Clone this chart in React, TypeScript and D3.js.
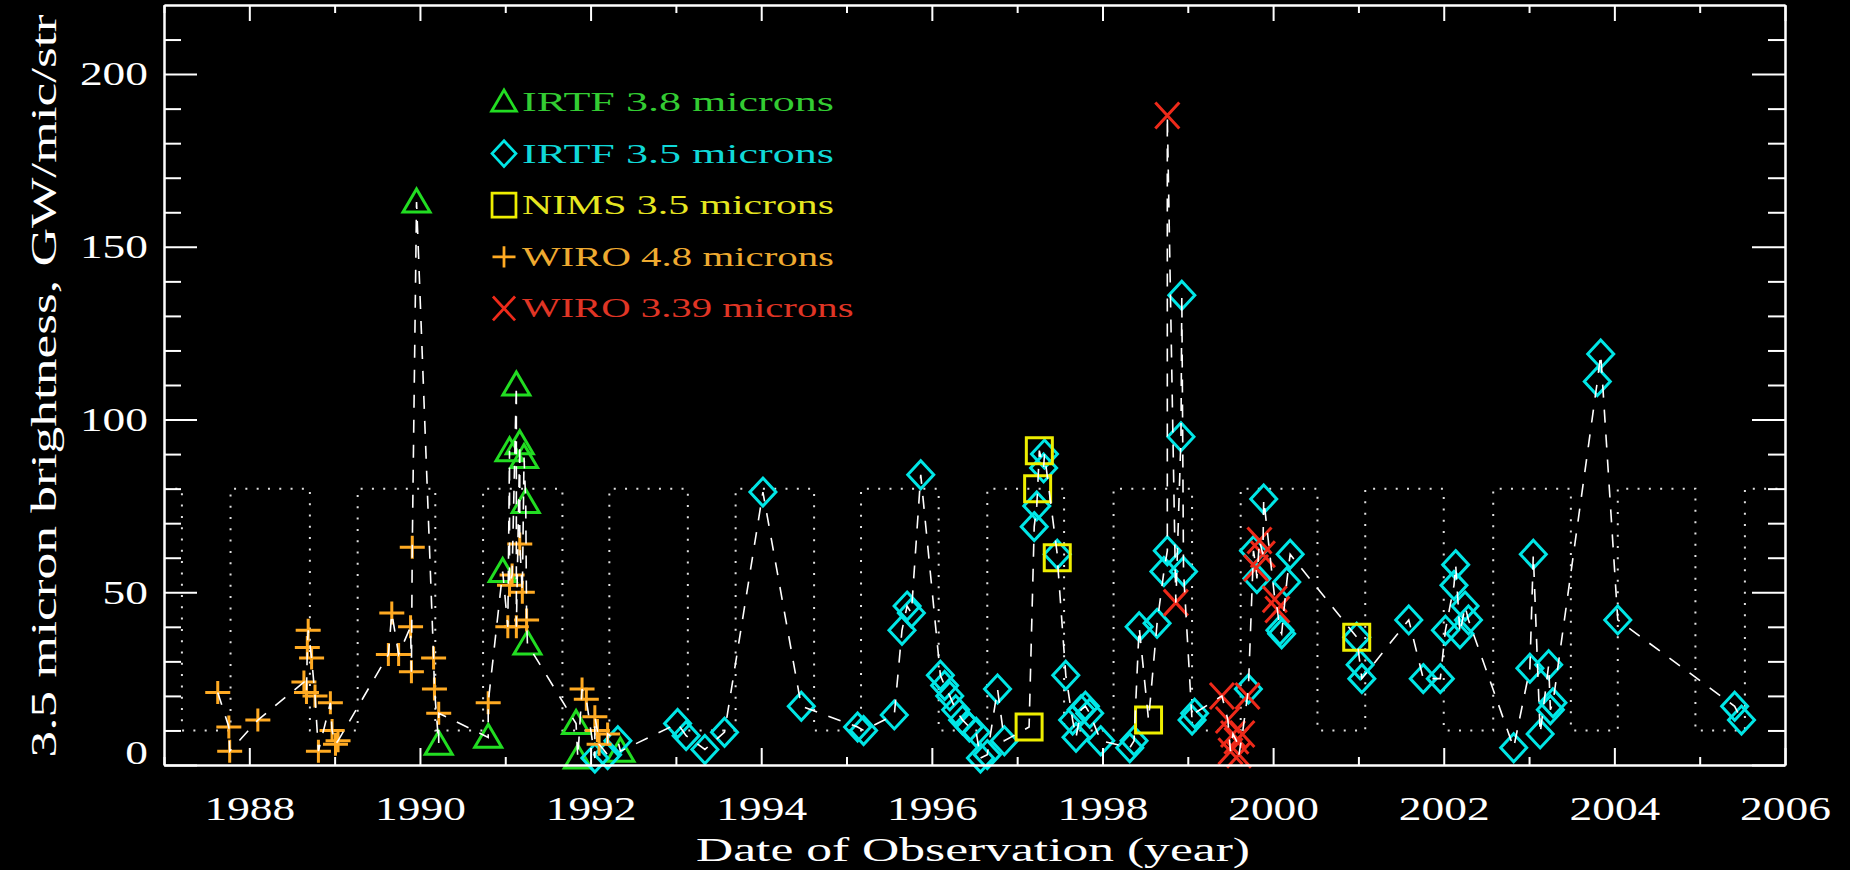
import React, { useRef, useEffect } from "react";
import * as d3 from "d3";

// [year, brightness GW/mic/str]
const irtf38 = [
  [1989.96, 163], [1990.22, 6], [1990.8, 8], [1990.97, 56], [1991.05, 91],
  [1991.13, 110], [1991.17, 93], [1991.22, 89], [1991.24, 76], [1991.26, 35],
  [1991.83, 12], [1991.85, 2], [1992.35, 4],
];

const irtf35 = [
  [1992.05, 2], [1992.2, 3], [1992.32, 7],
  [1993.02, 12], [1993.12, 8.5], [1993.34, 4.5], [1993.57, 9.5],
  [1994.02, 79], [1994.47, 17],
  [1995.13, 11], [1995.2, 10], [1995.56, 14.5], [1995.65, 39], [1995.71, 46], [1995.76, 44], [1995.87, 84],
  [1996.1, 26], [1996.15, 23], [1996.21, 20], [1996.28, 16], [1996.36, 13], [1996.44, 11], [1996.52, 9.5],
  [1996.57, 2], [1996.65, 3], [1996.77, 22], [1996.85, 7],
  [1997.2, 69], [1997.23, 75], [1997.31, 86], [1997.32, 90], [1997.47, 61], [1997.57, 26],
  [1997.65, 13], [1997.69, 8], [1997.75, 16], [1997.8, 17], [1997.85, 15], [1997.98, 7],
  [1998.32, 5], [1998.37, 7], [1998.43, 40], [1998.64, 41], [1998.72, 56], [1998.76, 62],
  [1998.92, 95], [1998.93, 136], [1998.95, 56],
  [1999.05, 13], [1999.08, 15],
  [1999.71, 22], [1999.77, 62], [1999.81, 54], [1999.89, 77], [2000.08, 39], [2000.1, 38], [2000.16, 53], [2000.2, 61],
  [2000.98, 37], [2001.02, 29], [2001.04, 25],
  [2001.59, 42], [2001.76, 25], [2001.96, 25],
  [2002.02, 39], [2002.12, 52], [2002.14, 58], [2002.19, 38], [2002.25, 46], [2002.29, 42],
  [2002.82, 5], [2003.01, 28], [2003.05, 61], [2003.13, 9], [2003.23, 29], [2003.25, 16], [2003.28, 18],
  [2003.8, 111], [2003.84, 119], [2004.04, 42],
  [2005.41, 17], [2005.49, 13],
];

const nims35 = [
  [1997.14, 11], [1997.24, 80], [1997.26, 91], [1997.47, 60], [1998.54, 13], [2000.98, 37],
];

const wiro48 = [
  [1987.63, 21], [1987.76, 11], [1987.77, 4], [1988.1, 13],
  [1988.64, 24], [1988.67, 21], [1988.68, 34], [1988.69, 39], [1988.73, 31], [1988.77, 20],
  [1988.81, 4], [1988.95, 18], [1988.97, 10], [1989.01, 6], [1989.04, 7],
  [1989.63, 32], [1989.67, 44], [1989.75, 32], [1989.89, 40], [1989.9, 27], [1989.91, 63],
  [1990.16, 31], [1990.17, 22], [1990.22, 15],
  [1990.8, 18], [1991.03, 40], [1991.05, 52], [1991.08, 55], [1991.13, 40], [1991.17, 64],
  [1991.2, 50], [1991.25, 42],
  [1991.9, 22], [1991.95, 19], [1992.05, 14], [1992.08, 10], [1992.1, 6], [1992.2, 9],
];

const wiro339 = [
  [1998.76, 188], [1998.86, 47], [1999.4, 20], [1999.47, 13], [1999.5, 4], [1999.53, 9],
  [1999.57, 7], [1999.6, 3], [1999.64, 9], [1999.7, 20], [1999.8, 57], [1999.84, 65],
  [1999.88, 61], [2000.02, 48], [2000.05, 45],
];

// dotted window curve: toggles between high and low at these dates
const waveEdges = [
  1987.21, 1987.78, 1988.71, 1989.27, 1990.18, 1990.74, 1991.67, 1992.22, 1993.14, 1993.7,
  1994.62, 1995.17, 1996.08, 1996.65, 1997.55, 1998.13, 1999.05, 1999.62, 2000.52, 2001.08,
  2002.0, 2002.58, 2003.49, 2004.04, 2004.95, 2005.53,
];
const waveHigh = 80;
const waveLow = 10;

const xMajor = [1988, 1990, 1992, 1994, 1996, 1998, 2000, 2002, 2004, 2006];
const xMinor = [1987, 1989, 1991, 1993, 1995, 1997, 1999, 2001, 2003, 2005];
const yMajor = [0, 50, 100, 150, 200];
const yMinor = [10, 20, 30, 40, 60, 70, 80, 90, 110, 120, 130, 140, 160, 170, 180, 190, 210];

const series = [
  { label: "IRTF 3.8 microns", color: "#22dd22", text: "#33cc33", sym: "triangle", data: irtf38 },
  { label: "IRTF 3.5 microns", color: "#00e6e6", text: "#10d8d8", sym: "diamond", data: irtf35 },
  { label: "NIMS 3.5 microns", color: "#eeee00", text: "#e6e620", sym: "square", data: nims35 },
  { label: "WIRO 4.8 microns", color: "#ffaa22", text: "#eeaa30", sym: "plus", data: wiro48 },
  { label: "WIRO 3.39 microns", color: "#ee2a1a", text: "#e03525", sym: "cross", data: wiro339 },
];

const symbolPath = {
  triangle: "M0,-13L13.5,10L-13.5,10Z",
  diamond: "M0,-14L13,0L0,14L-13,0Z",
  square: "M-13,-13H13V13H-13Z",
  plus: "M-12.5,0H12.5M0,-11.5V11.5",
  cross: "M-12,-13L12,13M-12,13L12,-13",
};

const FONT = "'Liberation Serif', 'DejaVu Serif', serif";

const App = () => {
  const svgRef = useRef(null);

  useEffect(() => {
    if (!svgRef.current) return;
    const svg = d3.select(svgRef.current);
    svg.selectAll("*").remove();

    const left = 164, right = 1785, top = 5, bottom = 765;
    const x = d3.scaleLinear().domain([1987, 2006]).range([left, right]);
    const y = d3.scaleLinear().domain([0, 220]).range([bottom, top]);

    svg.append("rect").attr("width", 1850).attr("height", 870).attr("fill", "#000");

    // dotted window curve
    const wave = [[1987, waveHigh]];
    let level = waveHigh;
    waveEdges.forEach((t) => {
      wave.push([t, level]);
      level = level === waveHigh ? waveLow : waveHigh;
      wave.push([t, level]);
    });
    wave.push([2006, level]);
    svg
      .append("path")
      .attr("d", d3.line().x((d) => x(d[0])).y((d) => y(d[1]))(wave))
      .attr("fill", "none")
      .attr("stroke", "#e0e0e0")
      .attr("stroke-width", 2)
      .attr("stroke-dasharray", "2,9.3");

    // symbols
    series.forEach((s) => {
      svg
        .append("g")
        .selectAll("path")
        .data(s.data)
        .enter()
        .append("path")
        .attr("d", symbolPath[s.sym])
        .attr("transform", (d) => `translate(${x(d[0])},${y(d[1])})`)
        .attr("fill", "none")
        .attr("stroke", s.color)
        .attr("stroke-width", 3);
    });

    // dashed line through all observations in time order
    const all = series.flatMap((s) => s.data).slice().sort((a, b) => a[0] - b[0]);
    svg
      .append("path")
      .attr("d", d3.line().x((d) => x(d[0])).y((d) => y(d[1]))(all))
      .attr("fill", "none")
      .attr("stroke", "#fff")
      .attr("stroke-width", 1.6)
      .attr("stroke-dasharray", "13,12");

    // axes
    const styleAxis = (g) => {
      g.selectAll(".domain").attr("stroke", "#fff").attr("stroke-width", 2);
      g.selectAll(".tick line").attr("stroke", "#fff").attr("stroke-width", 2);
      g.selectAll("text")
        .attr("fill", "#fff")
        .attr("textLength", (d) => String(d).length * 22.7)
        .attr("lengthAdjust", "spacingAndGlyphs")
        .style("font-family", FONT)
        .style("font-size", "34px");
    };
    const noLabel = () => "";

    svg.append("g").attr("transform", `translate(0,${bottom})`)
      .call(d3.axisBottom(x).tickValues(xMajor).tickSize(-17).tickSizeOuter(0).tickPadding(31).tickFormat(d3.format("d")))
      .call(styleAxis);
    svg.append("g").attr("transform", `translate(0,${bottom})`)
      .call(d3.axisBottom(x).tickValues(xMinor).tickSize(-8).tickSizeOuter(0).tickFormat(noLabel))
      .call(styleAxis);
    svg.append("g").attr("transform", `translate(0,${top})`)
      .call(d3.axisTop(x).tickValues(xMajor).tickSize(-16).tickSizeOuter(0).tickFormat(noLabel))
      .call(styleAxis);
    svg.append("g").attr("transform", `translate(0,${top})`)
      .call(d3.axisTop(x).tickValues(xMinor).tickSize(-8).tickSizeOuter(0).tickFormat(noLabel))
      .call(styleAxis);

    const yl = svg.append("g").attr("transform", `translate(${left},0)`)
      .call(d3.axisLeft(y).tickValues(yMajor).tickSize(-33).tickSizeOuter(0).tickPadding(16))
      .call(styleAxis);
    yl.selectAll("text").filter((d) => d === 0).attr("y", -12);
    svg.append("g").attr("transform", `translate(${left},0)`)
      .call(d3.axisLeft(y).tickValues(yMinor).tickSize(-17).tickSizeOuter(0).tickFormat(noLabel))
      .call(styleAxis);
    svg.append("g").attr("transform", `translate(${right},0)`)
      .call(d3.axisRight(y).tickValues(yMajor).tickSize(-33).tickSizeOuter(0).tickFormat(noLabel))
      .call(styleAxis);
    svg.append("g").attr("transform", `translate(${right},0)`)
      .call(d3.axisRight(y).tickValues(yMinor).tickSize(-17).tickSizeOuter(0).tickFormat(noLabel))
      .call(styleAxis);
    svg.selectAll(".tick text").filter(function () { return this.textContent === ""; }).remove();

    // axis titles
    svg.append("text")
      .attr("x", 973).attr("y", 861)
      .attr("text-anchor", "middle")
      .attr("textLength", 554).attr("lengthAdjust", "spacingAndGlyphs")
      .attr("fill", "#fff").style("font-family", FONT).style("font-size", "33px")
      .text("Date of Observation (year)");

    svg.append("text")
      .attr("transform", "translate(56,386) rotate(-90)")
      .attr("text-anchor", "middle")
      .attr("textLength", 743).attr("lengthAdjust", "spacingAndGlyphs")
      .attr("fill", "#fff").style("font-family", FONT).style("font-size", "35px")
      .text("3.5 micron brightness, GW/mic/str");

    // legend
    const legend = svg.append("g");
    series.forEach((s, i) => {
      const cy = 102 + i * 51.6;
      legend.append("path")
        .attr("d", symbolPath[s.sym])
        .attr("transform", `translate(504,${cy}) scale(0.92)`)
        .attr("fill", "none").attr("stroke", s.color).attr("stroke-width", 3);
      legend.append("text")
        .attr("x", 522).attr("y", cy + 9)
        .attr("textLength", s.label.length * 19.5).attr("lengthAdjust", "spacingAndGlyphs")
        .attr("fill", s.text).style("font-family", FONT).style("font-size", "28px")
        .text(s.label);
    });
  }, []);

  return (
    <svg
      ref={svgRef}
      width={1850}
      height={870}
      style={{ position: "absolute", left: 0, top: 0, display: "block" }}
    ></svg>
  );
};

export default App;
